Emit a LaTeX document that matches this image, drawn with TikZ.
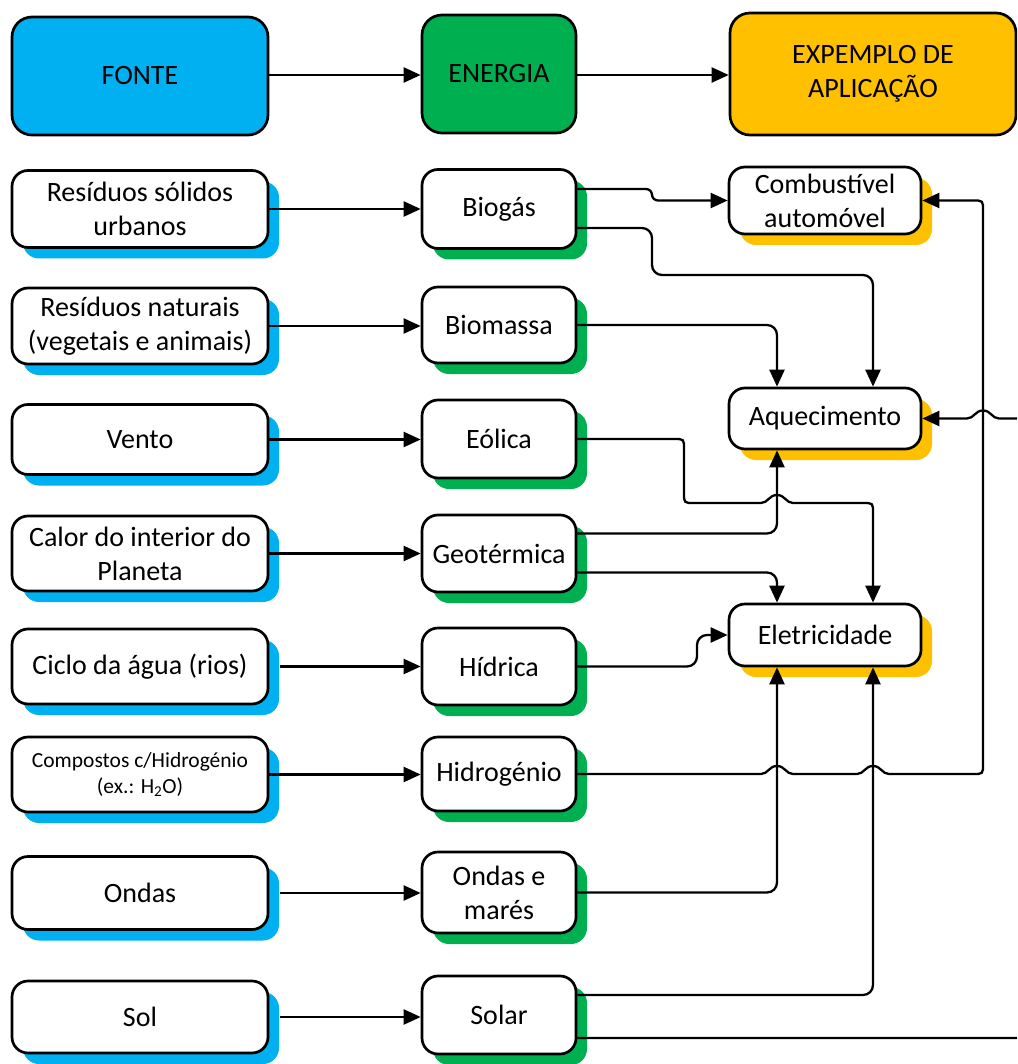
\documentclass[tikz,border=0pt]{standalone}
\usepackage{fontspec}
\setmainfont{Carlito}
\usetikzlibrary{arrows.meta,shadows}
\definecolor{srcblue}{RGB}{0,176,240}
\definecolor{nrggreen}{RGB}{0,176,80}
\definecolor{appyellow}{RGB}{255,192,0}

\begin{document}
\begin{tikzpicture}[x=1pt,y=-1pt,
  box/.style={draw=black, line width=2.7pt, rounded corners=16pt, fill=white,
    align=center, inner sep=0pt, font=\fontsize{28}{34}\selectfont},
  head/.style={box, rounded corners=20pt},
  srcbox/.style={box, minimum width=256pt,
    drop shadow={shadow xshift=11pt, shadow yshift=-11pt, fill=srcblue, opacity=1}},
  nrgbox/.style={box, minimum width=154pt,
    drop shadow={shadow xshift=11pt, shadow yshift=-11pt, fill=nrggreen, opacity=1}},
  appbox/.style={box, minimum width=192pt,
    drop shadow={shadow xshift=11pt, shadow yshift=-11pt, fill=appyellow, opacity=1}},
  link/.style={line width=2.3pt, -{Triangle[length=17pt,width=15pt]}},
  bent/.style={link, rounded corners=10pt},
  small/.style={font=\fontsize{21.5}{26}\selectfont}
]
\useasboundingbox (0,0) rectangle (1017,1064);
\clip (0,0) rectangle (1017,1064);

% column headers
\node[head, fill=srcblue, minimum width=256pt, minimum height=118pt] (fonte) at (140,76) {FONTE};
\node[head, fill=nrggreen, minimum width=154pt, minimum height=118pt] (energia) at (499,74) {ENERGIA};
\node[head, fill=appyellow, minimum width=286pt, minimum height=122pt] (aplic) at (873,74) {EXPEMPLO DE\\APLICAÇÃO};

\draw[link] (fonte.east |- 0,75) -- (energia.west |- 0,75);
\draw[link] (energia.east |- 0,75) -- (aplic.west |- 0,75);

% sources
\node[srcbox, minimum height=77pt] (s1) at (140,209) {Resíduos sólidos\\urbanos};
\node[srcbox, minimum height=76pt] (s2) at (140,326) {Resíduos naturais\\(vegetais e animais)};
\node[srcbox, minimum height=70pt] (s3) at (140,439.5) {Vento};
\node[srcbox, minimum height=75pt] (s4) at (140,553.5) {Calor do interior do\\Planeta};
\node[srcbox, minimum height=75pt] (s5) at (140,666.5) {Ciclo da água (rios)};
\node[srcbox, minimum height=75pt, small] (s6) at (140,774.5) {Compostos c/Hidrogénio\\(ex.: H\textsubscript{2}O)};
\node[srcbox, minimum height=73pt] (s7) at (140,893) {Ondas};
\node[srcbox, minimum height=72pt] (s8) at (140,1017) {Sol};

% energies
\node[nrgbox, minimum height=79pt] (e1) at (499,209) {Biogás};
\node[nrgbox, minimum height=76pt] (e2) at (499,325) {Biomassa};
\node[nrgbox, minimum height=78pt] (e3) at (499,439) {Eólica};
\node[nrgbox, minimum height=77pt] (e4) at (499,553.5) {Geotérmica};
\node[nrgbox, minimum height=77pt] (e5) at (499,666.5) {Hídrica};
\node[nrgbox, minimum height=74pt] (e6) at (499,774) {Hidrogénio};
\node[nrgbox, minimum height=81pt] (e7) at (499,892.5) {Ondas e\\marés};
\node[nrgbox, minimum height=78pt] (e8) at (499,1015) {Solar};

% applications
\node[appbox, minimum height=67pt] (a1) at (825,200.5) {Combustível\\automóvel};
\node[appbox, minimum height=61pt] (a2) at (825,418.5) {Aquecimento};
\node[appbox, minimum height=62pt] (a3) at (825,635) {Eletricidade};

% source -> energy
\draw[link] (s1.east) -- (s1.east -| e1.west);
\draw[link] (s2.east) -- (s2.east -| e2.west);
\draw[link] (s3.east) -- (s3.east -| e3.west);
\draw[link] (s4.east) -- (s4.east -| e4.west);
\draw[link] ([xshift=11pt]s5.east) -- (s5.east -| e5.west);
\draw[link] (s6.east) -- (s6.east -| e6.west);
\draw[link] ([xshift=11pt]s7.east) -- (s7.east -| e7.west);
\draw[link] ([xshift=11pt]s8.east) -- (s8.east -| e8.west);

% energy -> application (line hops where two connectors cross)
\draw[bent, rounded corners=6pt] ([yshift=20pt]e1.east) -- (652,189) -- (652,200.5) -- (a1.west);
\draw[bent] ([yshift=-19pt]e1.east) -| (652,275) -| ([xshift=48pt]a2.north);
\draw[bent] (e2.east) -| ([xshift=-48pt]a2.north);
\draw[link] (e3.east) -- (674,439) .. controls (684,439) .. (684,449)
  -- (684,493) .. controls (684,503) .. (694,503)
  -- (761,503)
  .. controls (768,503) and (769,495) .. (777,495)
  .. controls (785,495) and (786,503) .. (793,503)
  -- (863,503) .. controls (873,503) .. (873,513)
  -- ([xshift=48pt]a3.north);
\draw[bent] ([yshift=20pt]e4.east) -| ([xshift=-48pt]a2.south);
\draw[bent] ([yshift=-19pt]e4.east) -| ([xshift=-48pt]a3.north);
\draw[bent] (e5.east) -| (697,635) -- (a3.west);
\draw[link] (e6.east) -- (761,774)
  .. controls (768,774) and (769,766) .. (777,766)
  .. controls (785,766) and (786,774) .. (793,774)
  -- (857,774)
  .. controls (864,774) and (865,766) .. (873,766)
  .. controls (881,766) and (882,774) .. (889,774)
  -- (973,774) .. controls (983,774) .. (983,764)
  -- (983,210.5) .. controls (983,200.5) .. (973,200.5)
  -- (a1.east);
\draw[bent] (e7.east) -| ([xshift=-48pt]a3.south);
\draw[bent] ([yshift=20pt]e8.east) -| ([xshift=48pt]a3.south);
\draw[link] ([yshift=-23pt]e8.east) -- (1040,1038) -- (1040,418.5) -- (999,418.5)
  .. controls (992,418.5) and (991,410.5) .. (983,410.5)
  .. controls (975,410.5) and (974,418.5) .. (967,418.5)
  -- (a2.east);
\end{tikzpicture}
\end{document}
